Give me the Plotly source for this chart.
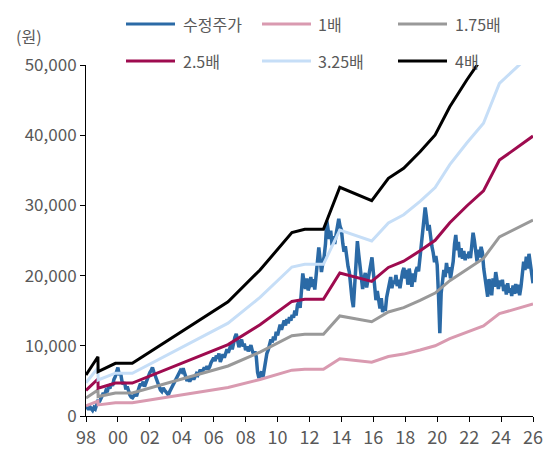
import pandas as pd
import plotly.graph_objects as go

# ---------------- data ----------------
price_start = "1998-01-01"
price = [
    # 1998
    1500, 1100, 900, 1300, 1000, 800, 1200, 1000, 1600, 2300, 2000, 2600,
    # 1999
    2800, 3300, 3000, 3600, 3400, 4200, 3900, 4600, 4300, 5200, 5600, 6300,
    # 2000
    6900, 5800, 6200, 5000, 4500, 4800, 3800, 4200, 3400, 3000, 2700, 2600,
    # 2001
    2900, 3300, 2800, 3600, 4100, 4600, 4300, 4900, 4200, 4700, 5300, 5800,
    # 2002
    6200, 6500, 6900, 6300, 5800, 5200, 4600, 4200, 3700, 3500, 4000, 3700,
    # 2003
    3400, 3100, 3000, 3500, 3900, 4300, 4700, 5100, 5400, 5900, 6200, 6500,
    # 2004
    6300, 6800, 6200, 5600, 5000, 5400, 4900, 5300, 5600, 5200, 5700, 6000,
    # 2005
    5800, 6300, 6600, 6100, 6500, 6900, 6600, 7100, 6700, 7000, 7600, 8000,
    # 2006
    8300, 7800, 8600, 8200, 8900, 7700, 8400, 8800, 8300, 9100, 9500, 9000,
    # 2007
    9600, 10200, 9500, 10500, 11200, 11700, 10600, 9800, 10400, 10900, 9900, 10300,
    # 2008
    9400, 9900, 9200, 9800, 10100, 9300, 8800, 9200, 8400, 6200, 5400, 6000,
    # 2009
    6300, 5500, 6500, 8000, 8900, 9400, 10100, 10900, 10500, 11300, 10800, 12000,
    # 2010
    11500, 12400, 13000, 12300, 12800, 13600, 12900, 13800, 13200, 14100, 13600, 14400,
    # 2011
    14000, 15000, 14300, 15800, 16200, 15400, 17800, 20300, 19000, 18100, 19600, 17900,
    # 2012
    18500, 19800, 18400, 19500, 18000, 19900, 21500, 24000, 22300, 20500, 21800, 22700,
    # 2013
    24500, 27800, 26600, 25200, 26400, 24300, 25600, 24500, 25900, 27400, 28100, 27000,
    # 2014
    26500, 24600, 23400, 24200, 22100, 21300, 20500, 18200, 16600, 15500, 19200, 22800,
    # 2015
    24900, 23000, 21200, 19000, 18100, 19600, 20400, 18300, 19500, 20800, 21900, 22600,
    # 2016
    20500, 17600, 16500, 17800, 16200, 15300, 16800, 14800, 15600, 15000, 16900, 17800,
    # 2017
    18600, 19800, 18200, 19300, 18800, 20100, 18500, 19400, 18200, 19800, 20600, 21100,
    # 2018
    19600, 20800, 18700, 21000, 19500, 18400, 20300, 19100, 20700, 21200, 20600, 22300,
    # 2019
    24000, 25600, 27800, 29700, 28300, 26400, 27200, 25300, 24200, 23300, 21900, 22800,
    # 2020
    21500, 17000, 11800, 17500, 19500, 20800, 19800, 21800, 20400, 21200, 19600, 21000,
    # 2021
    22000, 24500, 25800, 23600, 24800, 22600, 23900, 22400, 23500, 22200, 23000, 22800,
    # 2022
    23400, 22500, 24900, 26100, 25000, 23300, 22000, 23700, 22600, 24100, 23300, 21000,
    # 2023
    19800, 18200, 17000, 19500, 18300, 17200, 19600, 18400, 20500, 19000, 18100, 19300,
    # 2024
    18500, 19400, 17800, 18700, 17300, 18900, 17600, 18200, 17100, 18600, 17400, 18800,
    # 2025
    17500, 18700, 17200, 18400, 20600, 22000, 20800, 22700, 21000, 23100, 21700, 20300,
    # 2026
    18900,
]
price_dates = pd.date_range(price_start, periods=len(price), freq="MS")

bps_dates = [
    "1998-01-01", "1998-10-01", "1998-10-05", "1999-11-05", "2000-11-25",
    "2006-11-25", "2008-11-25", "2009-12-15", "2010-11-25", "2011-09-15",
    "2012-11-15", "2013-11-25", "2015-11-25", "2016-12-10", "2017-11-25",
    "2018-12-05", "2019-11-15", "2020-10-15", "2021-11-08", "2022-11-25",
    "2023-11-25", "2026-01-01",
]
bps = [
    1460, 2110, 1580, 1875, 1875,
    4070, 5200, 5910, 6530, 6650,
    6650, 8145, 7670, 8465, 8820,
    9410, 10010, 11015, 11965, 12830,
    14580, 15950,
]

band_names = ["1배", "1.75배", "2.5배", "3.25배", "4배"]
band_multiples = [1.0, 1.75, 2.5, 3.25, 4.0]

price_name = "수정주가"
x_tick_years = list(range(1998, 2027, 2))
x_tick_labels = [f"{y % 100:02d}" for y in x_tick_years]
y_tick_vals = [0, 10000, 20000, 30000, 40000, 50000]

# ---------------- style ----------------
FONT = "Noto Sans CJK KR"
TXT = "#595959"
price_color = "#2B6AA6"
band_colors = ["#D99AB0", "#999999", "#9E0B4F", "#C6DEF7", "#000000"]

W, H = 553, 452
L, R, T, B = 86, 20, 65, 36
PW, PH = W - L - R, H - T - B


def px_x(px):
    return (px - L) / PW


def px_y(py):
    return (H - B - py) / PH


fig = go.Figure()
fig.add_trace(go.Scatter(
    x=price_dates, y=price, mode="lines", name=price_name,
    line=dict(color=price_color, width=3.5), showlegend=False,
))
for name, mult, col in zip(band_names, band_multiples, band_colors):
    fig.add_trace(go.Scatter(
        x=pd.to_datetime(bps_dates), y=[v * mult for v in bps], mode="lines",
        name=name, line=dict(color=col, width=3), showlegend=False,
    ))

# manual legend (3 columns x 2 rows)
legend_names = [price_name] + band_names
legend_colors = [price_color] + band_colors
cols = [(126, 175, 181), (262, 311, 316), (398, 447, 453)]
rows = [24, 61]
for i, (nm, col) in enumerate(zip(legend_names, legend_colors)):
    r, c = divmod(i, 3)
    x0, x1, xt = cols[c]
    yy = px_y(rows[r])
    fig.add_shape(type="line", xref="paper", yref="paper",
                  x0=px_x(x0), x1=px_x(x1), y0=yy, y1=yy,
                  line=dict(color=col, width=3))
    fig.add_annotation(xref="paper", yref="paper", x=px_x(xt), y=yy,
                       text=nm, showarrow=False, xanchor="left", yanchor="middle",
                       font=dict(family=FONT, size=16, color=TXT))

fig.add_annotation(xref="paper", yref="paper", x=px_x(29), y=px_y(36),
                   text="(원)", showarrow=False, xanchor="center", yanchor="middle",
                   font=dict(family=FONT, size=16, color=TXT))

fig.update_layout(
    width=W, height=H,
    margin=dict(l=L, r=R, t=T, b=B, pad=0, autoexpand=False),
    paper_bgcolor="white", plot_bgcolor="white",
    font=dict(family=FONT, size=17, color=TXT),
    showlegend=False,
)
fig.update_xaxes(
    type="date", range=["1998-01-01", "2026-01-01"], automargin=False,
    tickvals=[f"{y}-01-01" for y in x_tick_years], ticktext=x_tick_labels,
    showgrid=False, zeroline=False, showline=True, linecolor="#000000", linewidth=1,
    ticks="outside", ticklen=5, tickcolor="#000000", tickwidth=1,
    tickfont=dict(family=FONT, size=18, color=TXT),
)
fig.update_yaxes(
    range=[0, 50000], tickvals=y_tick_vals, tickformat=",d", automargin=False,
    showgrid=False, zeroline=False, showline=True, linecolor="#000000", linewidth=1,
    ticks="outside", ticklen=5, tickcolor="#000000", tickwidth=1,
    tickfont=dict(family=FONT, size=17, color=TXT),
)

fig.write_html("out.html")
